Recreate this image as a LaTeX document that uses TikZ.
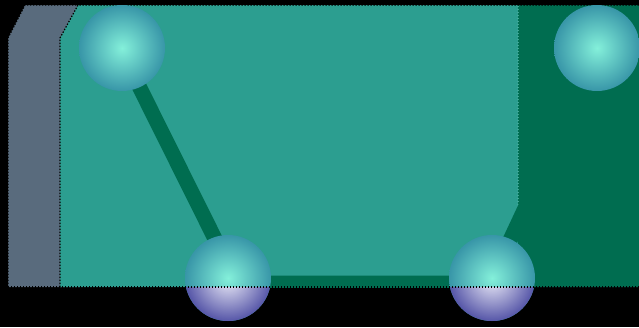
\documentclass[tikz,border=0pt]{standalone}
\usetikzlibrary{calc}
\definecolor{bgblack}{HTML}{000000}
\definecolor{slate}{HTML}{596B7D}
\definecolor{tealpanel}{HTML}{2C9E90}
\definecolor{darkgreen}{HTML}{006D50}
\definecolor{ballin}{HTML}{84F0DA}
\definecolor{ballout}{HTML}{3896A8}
\definecolor{lavin}{HTML}{EEEEF9}
\definecolor{lavout}{HTML}{5656A8}
\definecolor{dotteal}{HTML}{3FA898}
\tikzset{
  dotborder/.style={draw=black, line width=1.2pt, dash pattern=on 1.4pt off 1.6pt},
  ballnode/.style={circle, minimum size=86pt, inner sep=0pt, shading=radial, inner color=ballin, outer color=ballout},
  linkline/.style={draw=darkgreen, line width=15pt},
}
\begin{document}
\begin{tikzpicture}[x=1pt,y=-1pt]
\useasboundingbox (0,0) rectangle (639,327);
\fill[bgblack] (0,0) rectangle (639,327);
% slate back panel
\fill[slate] (8,287) -- (8,38) -- (25,5) -- (80,5) -- (80,287) -- cycle;
\draw[dotborder] (8,287) -- (8,38) -- (25,5) -- (80,5);
% teal panel
\fill[tealpanel] (60,287) -- (60,38) -- (78,5) -- (639,5) -- (639,287) -- cycle;
% dark green right block
\fill[darkgreen] (518,5) rectangle (639,287);
\draw[draw=dotteal, line width=1.2pt, dash pattern=on 1.4pt off 1.6pt] (518,6) -- (518,205);
% connectors
\coordinate (p1) at (120,48);
\coordinate (p2) at (237,283);
\coordinate (p3) at (490,283);
\coordinate (p4) at (600,48);
\begin{scope}
\clip (60,5) rectangle (639,287);
\draw[linkline] (p1) -- (p2) -- (p3) -- (p4);
\end{scope}
\draw[dotborder] (60,287) -- (60,38) -- (78,5) -- (639,5);
% balls
\node[ballnode] (n1) at (122,48) {};
\node[ballnode] (n2) at (228,278) {};
\node[ballnode] (n3) at (492,278) {};
\node[ballnode] (n4) at (597,48) {};
\begin{scope}
\clip (0,287) rectangle (639,327);
\shade[inner color=lavin, outer color=lavout] (n2.center) circle (43);
\shade[inner color=lavin, outer color=lavout] (n3.center) circle (43);
\end{scope}
\draw[dotborder] (8,287) -- (639,287);
\end{tikzpicture}
\end{document}
